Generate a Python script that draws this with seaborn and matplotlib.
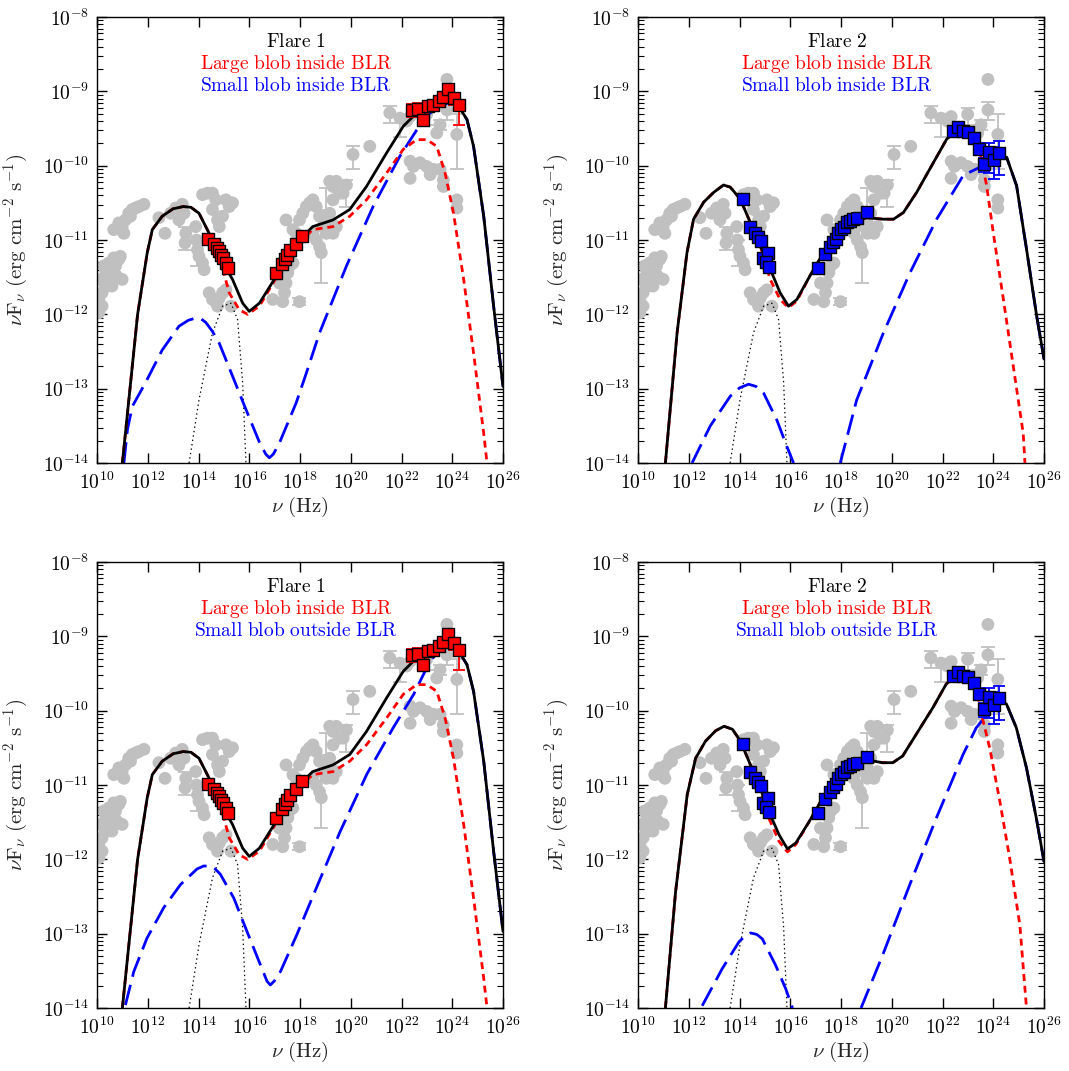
import numpy as np
import pandas as pd
import matplotlib
matplotlib.use("Agg")
import matplotlib.pyplot as plt
import matplotlib.ticker as mticker
import seaborn as sns

# ---------------- data (log10 nu [Hz], log10 nuFnu [erg cm^-2 s^-1]) ----------------
grey_lognu = [10.07, 10.20, 10.33, 10.46, 10.59, 10.73, 10.86, 10.26, 10.46, 10.66, 10.92, 10.99,
              10.13, 10.40, 10.59, 10.20, 10.07, 10.79, 10.33,
              10.66, 10.86, 10.99, 11.12, 11.25, 11.39, 11.52, 11.65, 11.85, 10.92, 11.06, 11.32,
              12.44, 12.68, 12.90, 13.10, 13.36, 13.43, 13.23,
              13.50, 13.47, 13.89, 13.92, 13.96, 14.02, 14.16, 14.22,
              14.16, 14.35, 14.55, 14.68, 14.55, 14.75, 14.82, 15.08, 15.21, 15.34, 14.95,
              14.42, 14.55, 14.68, 14.82, 14.95, 15.08, 14.75, 15.28,
              16.93, 17.32, 17.39, 17.45, 17.19, 17.52, 17.59, 17.72, 17.45, 17.72, 17.85, 17.98,
              18.11, 18.25, 18.38, 18.51, 18.64, 18.77, 18.91, 19.04, 18.51, 18.64, 18.77, 18.84,
              17.98, 19.17, 19.30, 19.43, 19.56, 19.70, 19.83, 19.30, 19.17, 19.04, 19.30, 19.43,
              20.09, 20.75, 21.54, 21.94, 22.20, 22.34, 22.99, 23.52, 23.39, 23.79, 24.18, 24.18,
              24.18, 22.34, 22.47, 22.73, 22.99, 23.26, 23.52, 23.13, 22.34, 23.65, 23.65, 23.79]
grey_logf = [-11.80, -11.71, -11.62, -11.53, -11.44, -11.35, -11.26, -11.35, -11.31, -11.24, -11.22, -11.53,
             -11.53, -11.62, -11.62, -11.89, -11.98, -11.49, -11.40,
             -10.86, -10.77, -10.82, -10.73, -10.64, -10.59, -10.57, -10.55, -10.52, -10.86, -10.91, -10.68,
             -10.70, -10.91, -10.64, -10.57, -10.52, -10.64, -10.73,
             -10.91, -11.04, -10.82, -11.00, -11.13, -11.22, -11.31, -11.40,
             -10.39, -10.37, -10.37, -10.46, -10.59, -10.73, -10.82, -10.46, -10.55, -10.50, -10.68,
             -11.71, -11.80, -11.83, -11.78, -11.71, -11.67, -11.89, -11.89,
             -11.80, -11.83, -11.71, -11.58, -11.58, -11.44, -11.35, -11.31, -10.73, -10.86, -10.91, -10.73,
             -10.64, -10.55, -10.50, -10.46, -10.55, -10.68, -10.82, -10.91, -10.91, -11.00, -11.09, -11.17,
             -11.83, -10.21, -10.28, -10.21, -10.37, -10.37, -10.26, -10.46, -10.64, -10.77, -10.91, -10.82,
             -9.85, -9.74, -9.29, -9.36, -9.40, -9.34, -9.31, -9.45, -9.56, -8.84, -9.58, -10.46,
             -10.57, -9.94, -10.01, -9.96, -10.01, -10.05, -10.05, -10.12, -10.17, -10.19, -10.28, -9.25]
# grey error bars (log nu, log lower, log upper)
grey_err_lognu = [13.47, 13.96, 17.98, 18.84, 19.04, 19.83, 20.09, 21.54, 21.94, 22.99, 23.52, 24.18, 23.79]
grey_err_lo = [-11.13, -11.35, -11.87, -11.58, -10.60, -10.55, -10.05, -9.42, -9.62, -9.45, -9.52, -10.05, -9.38]
grey_err_hi = [-10.82, -11.00, -11.78, -10.86, -10.30, -10.19, -9.74, -9.20, -9.30, -9.22, -9.38, -9.30, -9.15]

# Flare 1 observed (red squares)
f1_lognu = [14.38, 14.62, 14.71, 14.79, 14.88, 14.95, 15.08, 15.15,
            17.06, 17.28, 17.39, 17.48, 17.59, 17.85, 18.09,
            22.40, 22.66, 22.86, 23.06, 23.26, 23.46, 23.65, 23.85, 24.05, 24.25]
f1_logf = [-10.99, -11.06, -11.11, -11.15, -11.20, -11.24, -11.31, -11.38,
           -11.45, -11.32, -11.26, -11.20, -11.13, -11.05, -10.94,
           -9.25, -9.24, -9.38, -9.20, -9.19, -9.13, -9.08, -8.97, -9.09, -9.18]
f1_err_lognu = [22.40, 22.66, 22.86, 23.06, 23.26, 23.46, 23.65, 23.85, 24.05, 24.25]
f1_err_lo = [-9.35, -9.33, -9.46, -9.28, -9.26, -9.20, -9.15, -9.04, -9.18, -9.45]
f1_err_hi = [-9.17, -9.16, -9.30, -9.13, -9.12, -9.07, -9.02, -8.92, -9.02, -9.11]

# Flare 2 observed (blue squares)
f2_lognu = [14.13, 14.40, 14.62, 14.72, 14.84, 14.92, 15.14, 15.05, 15.18,
            17.11, 17.38, 17.55, 17.68, 17.81, 17.90, 17.99, 18.10, 18.23, 18.36, 18.49, 18.62, 19.04,
            22.43, 22.62, 22.82, 23.02, 23.24, 23.44, 23.65, 23.85, 24.04, 24.24]
f2_logf = [-10.45, -10.82, -10.91, -10.96, -11.02, -11.24, -11.18, -11.30, -11.36,
           -11.37, -11.19, -11.10, -11.03, -10.98, -10.90, -10.85, -10.82, -10.76, -10.74, -10.72, -10.70, -10.62,
           -9.53, -9.48, -9.54, -9.55, -9.63, -9.77, -9.98, -9.81, -9.93, -9.83]
f2_err_lognu = [22.43, 22.62, 22.82, 23.02, 23.24, 23.44, 23.65, 23.85, 24.04, 24.24]
f2_err_lo = [-9.62, -9.56, -9.61, -9.62, -9.71, -9.86, -10.08, -10.10, -10.18, -10.12]
f2_err_hi = [-9.46, -9.42, -9.48, -9.49, -9.56, -9.70, -9.90, -9.70, -9.75, -9.67]

# Model curves: Flare 1
f1_total_lognu = [11.0, 11.3, 11.6, 11.98, 12.18, 12.57, 13.0, 13.4, 13.7, 14.02, 14.42, 14.82, 15.34,
                  15.74, 16.0, 16.4, 17.06, 17.72, 18.5, 19.3, 19.96, 20.62, 21.41, 22.07, 22.6, 23.13,
                  23.79, 24.18, 24.58, 24.84, 25.24, 25.63, 26.0]
f1_total_logf = [-14.0, -13.0, -12.0, -11.17, -10.86, -10.68, -10.58, -10.55, -10.56, -10.64, -10.91, -11.22,
                 -11.53, -11.85, -11.96, -11.85, -11.49, -11.09, -10.82, -10.73, -10.59, -10.28, -9.83, -9.47,
                 -9.29, -9.20, -9.11, -9.16, -9.38, -9.74, -10.68, -11.89, -12.97]
f1_large_lognu = [11.0, 11.3, 11.6, 11.98, 12.18, 12.57, 13.0, 13.4, 13.7, 14.02, 14.42, 14.82, 15.21,
                  15.61, 15.94, 16.4, 17.06, 17.72, 18.5, 19.3, 19.96, 20.62, 21.41, 22.07, 22.6, 23.0,
                  23.39, 23.72, 24.05, 24.45, 24.84, 25.24, 25.37]
f1_large_logf = [-14.0, -13.0, -12.0, -11.17, -10.86, -10.68, -10.58, -10.55, -10.56, -10.64, -10.91, -11.22,
                 -11.71, -11.94, -12.0, -11.89, -11.51, -11.12, -10.86, -10.82, -10.68, -10.46, -10.10, -9.78,
                 -9.65, -9.65, -9.74, -10.10, -10.64, -11.53, -12.52, -13.60, -14.0]
f1_small_in_lognu = [11.06, 11.2, 11.39, 11.91, 12.57, 13.23, 13.6, 13.89, 14.1, 14.29, 14.55, 14.82, 15.34,
                     15.87, 16.4, 16.65, 16.79, 16.95, 17.19, 17.85, 18.25, 18.77, 19.83, 20.88, 21.94, 22.6,
                     23.13, 23.79, 24.18, 24.58, 24.84, 25.24, 25.63, 26.0]
f1_small_in_logf = [-14.0, -13.55, -13.24, -12.92, -12.48, -12.16, -12.08, -12.05, -12.06, -12.11, -12.23,
                    -12.39, -12.83, -13.28, -13.72, -13.88, -13.93, -13.88, -13.73, -13.19, -12.79, -12.25,
                    -11.35, -10.55, -9.87, -9.52, -9.29, -9.16, -9.16, -9.38, -9.74, -10.68, -11.89, -12.97]
f1_small_out_lognu = [11.12, 11.45, 11.97, 12.63, 13.29, 13.94, 14.2, 14.47, 14.66, 14.86, 15.39, 15.91, 16.44,
                      16.7, 16.83, 16.98, 17.23, 17.88, 18.54, 19.59, 20.64, 21.69, 22.48, 23.13, 23.6, 24.18,
                      24.58, 24.84, 25.24, 25.63, 26.0]
f1_small_out_logf = [-13.96, -13.51, -13.06, -12.65, -12.34, -12.13, -12.09, -12.09, -12.13, -12.2, -12.52,
                     -12.97, -13.42, -13.64, -13.69, -13.64, -13.51, -13.01, -12.47, -11.62, -10.85, -10.22,
                     -9.78, -9.33, -9.15, -9.16, -9.38, -9.74, -10.68, -11.89, -12.97]

# Accretion disk (dotted)
disk_lognu = [13.63, 14.02, 14.55, 14.95, 15.28, 15.54, 15.74, 15.87]
disk_logf = [-14.0, -13.15, -12.25, -11.89, -11.85, -12.07, -12.92, -14.0]

# Model curves: Flare 2 (small blob inside BLR)
f2_total_in_lognu = [11.08, 11.54, 11.93, 12.19, 12.59, 12.98, 13.37, 13.64, 14.03, 14.42, 14.82, 15.21,
                     15.6, 15.93, 16.26, 16.78, 17.31, 17.83, 18.36, 19.02, 19.67, 20.07, 20.46, 20.98,
                     21.64, 22.17, 22.56, 22.95, 23.35, 23.74, 24.13, 24.53, 24.92, 25.31, 25.71, 26.0]
f2_total_in_logf = [-14.0, -12.25, -11.17, -10.72, -10.49, -10.36, -10.26, -10.29, -10.45, -10.76, -11.08,
                    -11.39, -11.71, -11.89, -11.80, -11.48, -11.17, -10.90, -10.76, -10.70, -10.72, -10.72,
                    -10.63, -10.36, -9.96, -9.64, -9.53, -9.55, -9.73, -9.82, -9.82, -9.89, -10.27, -11.12,
                    -12.02, -12.6]
f2_large_lognu = [11.08, 11.54, 11.93, 12.19, 12.59, 12.98, 13.37, 13.64, 14.03, 14.42, 14.82, 15.21,
                  15.6, 15.93, 16.26, 16.78, 17.31, 17.83, 18.36, 19.02, 19.67, 20.07, 20.46, 20.98,
                  21.64, 22.17, 22.56, 22.95, 23.35, 23.48, 23.74, 24.0, 24.4, 24.79, 25.18, 25.25]
f2_large_logf = [-14.0, -12.25, -11.17, -10.72, -10.49, -10.36, -10.26, -10.29, -10.45, -10.76, -11.08,
                 -11.53, -11.80, -11.91, -11.82, -11.48, -11.17, -10.90, -10.76, -10.70, -10.72, -10.72,
                 -10.63, -10.36, -9.96, -9.64, -9.53, -9.55, -9.73, -9.82, -10.27, -10.90, -11.80, -12.70,
                 -13.60, -14.0]
f2_small_in_syn_lognu = [12.13, 12.85, 13.64, 14.0, 14.36, 14.65, 14.95, 15.47, 15.87, 16.13]
f2_small_in_syn_logf = [-14.0, -13.5, -13.1, -12.99, -12.94, -12.97, -13.06, -13.42, -13.78, -14.0]
f2_small_in_ic_lognu = [17.97, 18.62, 19.67, 20.72, 21.77, 22.82, 23.6, 24.13, 24.53, 24.92, 25.31, 25.71, 26.0]
f2_small_in_ic_logf = [-14.0, -13.15, -12.25, -11.44, -10.72, -10.13, -10.0, -9.87, -9.89, -10.27, -11.12,
                       -12.02, -12.6]

# Model curves: Flare 2 (small blob outside BLR)
f2_total_out_lognu = [11.08, 11.48, 11.94, 12.27, 12.66, 13.06, 13.39, 13.72, 14.04, 14.37, 14.77, 15.16,
                      15.56, 15.89, 16.22, 16.75, 17.27, 17.80, 18.46, 18.99, 19.64, 20.04, 20.43, 20.96,
                      21.62, 22.15, 22.54, 22.94, 23.33, 23.73, 24.12, 24.52, 24.91, 25.31, 25.70, 26.0]
f2_total_out_logf = [-14.0, -12.44, -11.13, -10.64, -10.41, -10.27, -10.21, -10.25, -10.41, -10.68, -11.0,
                     -11.36, -11.67, -11.86, -11.78, -11.49, -11.18, -10.91, -10.73, -10.66, -10.70, -10.70,
                     -10.61, -10.32, -9.96, -9.64, -9.53, -9.55, -9.71, -9.82, -9.85, -9.91, -10.23, -10.77,
                     -11.45, -12.03]
f2_large_out_lognu = [11.08, 11.48, 11.94, 12.27, 12.66, 13.06, 13.39, 13.72, 14.04, 14.37, 14.77, 15.16,
                      15.56, 15.89, 16.22, 16.75, 17.27, 17.80, 18.46, 18.99, 19.64, 20.04, 20.43, 20.96,
                      21.62, 22.15, 22.54, 22.94, 23.33, 23.6, 23.86, 24.26, 24.65, 25.05, 25.31]
f2_large_out_logf = [-14.0, -12.44, -11.13, -10.64, -10.41, -10.27, -10.21, -10.25, -10.41, -10.68, -11.0,
                     -11.45, -11.76, -11.90, -11.80, -11.49, -11.18, -10.91, -10.73, -10.66, -10.70, -10.70,
                     -10.61, -10.32, -9.96, -9.64, -9.53, -9.55, -9.71, -10.14, -10.50, -11.22, -11.99,
                     -12.89, -14.0]
f2_small_out_syn_lognu = [12.53, 13.32, 13.98, 14.22, 14.44, 14.68, 14.90, 15.43, 15.82, 16.09]
f2_small_out_syn_logf = [-13.97, -13.47, -13.11, -13.03, -12.99, -13.01, -13.07, -13.43, -13.74, -14.0]
f2_small_out_ic_lognu = [18.79, 19.64, 20.70, 21.75, 22.81, 23.33, 23.66, 24.12, 24.52, 24.91, 25.31, 25.70, 26.0]
f2_small_out_ic_logf = [-14.0, -13.29, -12.35, -11.45, -10.59, -10.23, -10.09, -9.87, -9.91, -10.23, -10.77,
                        -11.45, -12.03]

x_ticks_exp = [10, 12, 14, 16, 18, 20, 22, 24, 26]
y_ticks_exp = [-14, -13, -12, -11, -10, -9, -8]

titles = ["Flare 1", "Flare 2", "Flare 1", "Flare 2"]
large_labels = ["Large blob inside BLR"] * 4
small_labels = ["Small blob inside BLR", "Small blob inside BLR",
                "Small blob outside BLR", "Small blob outside BLR"]

# ---------------- style ----------------
sns.set_theme(style="ticks")
plt.rcParams.update({
    "font.family": ["DejaVu Serif"],
    "mathtext.fontset": "cm",
    "lines.scale_dashes": False,
    "axes.linewidth": 1.0,
    "xtick.direction": "in",
    "ytick.direction": "in",
})

GREY = "#c0c0c0"
RED = "#ff0000"
BLUE = "#0000ff"

fig = plt.figure(figsize=(10.69, 10.71), dpi=100)
W, H = 1069.0, 1071.0
boxes = [(97, 17), (638, 17), (97, 562), (638, 562)]
aw, ah = 406, 446


def tolin(a):
    return 10.0 ** np.asarray(a, dtype=float)


def line(ax, lx, ly, color, dashes=None, lw=2.0, z=3):
    sns.lineplot(x=tolin(lx), y=tolin(ly), ax=ax, color=color, lw=lw, sort=False,
                 estimator=None, legend=False, zorder=z)
    ln = ax.lines[-1]
    if dashes is not None:
        ln.set_dashes(dashes)
    return ln


panels = [
    dict(sq_x=f1_lognu, sq_y=f1_logf, sq_c=RED, ex=f1_err_lognu, elo=f1_err_lo, ehi=f1_err_hi,
         tot=(f1_total_lognu, f1_total_logf), large=(f1_large_lognu, f1_large_logf),
         small=[(f1_small_in_lognu, f1_small_in_logf)]),
    dict(sq_x=f2_lognu, sq_y=f2_logf, sq_c=BLUE, ex=f2_err_lognu, elo=f2_err_lo, ehi=f2_err_hi,
         tot=(f2_total_in_lognu, f2_total_in_logf), large=(f2_large_lognu, f2_large_logf),
         small=[(f2_small_in_syn_lognu, f2_small_in_syn_logf), (f2_small_in_ic_lognu, f2_small_in_ic_logf)]),
    dict(sq_x=f1_lognu, sq_y=f1_logf, sq_c=RED, ex=f1_err_lognu, elo=f1_err_lo, ehi=f1_err_hi,
         tot=(f1_total_lognu, f1_total_logf), large=(f1_large_lognu, f1_large_logf),
         small=[(f1_small_out_lognu, f1_small_out_logf)]),
    dict(sq_x=f2_lognu, sq_y=f2_logf, sq_c=BLUE, ex=f2_err_lognu, elo=f2_err_lo, ehi=f2_err_hi,
         tot=(f2_total_out_lognu, f2_total_out_logf), large=(f2_large_out_lognu, f2_large_out_logf),
         small=[(f2_small_out_syn_lognu, f2_small_out_syn_logf), (f2_small_out_ic_lognu, f2_small_out_ic_logf)]),
]

for i, p in enumerate(panels):
    x0, y0 = boxes[i]
    ax = fig.add_axes([x0 / W, 1 - (y0 + ah) / H, aw / W, ah / H])
    ax.set_xscale("log")
    ax.set_yscale("log")

    # grey archival data
    gl, gh = tolin(grey_err_lo), tolin(grey_err_hi)
    gm = np.sqrt(gl * gh)
    ax.errorbar(tolin(grey_err_lognu), gm, yerr=[gm - gl, gh - gm],
                fmt="none", ecolor=GREY, elinewidth=1.3, capsize=5, capthick=1.3, zorder=1)
    sns.scatterplot(x=tolin(grey_lognu), y=tolin(grey_logf), ax=ax, color=GREY, s=85,
                    edgecolor="none", linewidth=0, zorder=1, legend=False)

    # model curves
    line(ax, disk_lognu, disk_logf, "black", dashes=[1.0, 2.2], lw=0.9, z=2)
    for sx, sy in p["small"]:
        line(ax, sx, sy, BLUE, dashes=[15, 6], lw=2.0, z=3)
    line(ax, p["large"][0], p["large"][1], RED, dashes=[5, 3.5], lw=2.0, z=3)
    line(ax, p["tot"][0], p["tot"][1], "black", lw=2.0, z=4)

    # observed squares
    yl, yh = tolin(p["elo"]), tolin(p["ehi"])
    ym = np.sqrt(yl * yh)
    ax.errorbar(tolin(p["ex"]), ym, yerr=[ym - yl, yh - ym], fmt="none", ecolor=p["sq_c"],
                elinewidth=1.3, capsize=4, capthick=1.3, zorder=5)
    sns.scatterplot(x=tolin(p["sq_x"]), y=tolin(p["sq_y"]), ax=ax, marker="s", color=p["sq_c"],
                    s=75, edgecolor="black", linewidth=1.0, zorder=6, legend=False)

    ax.set_xlim(1e10, 1e26)
    ax.set_ylim(1e-14, 1e-8)
    ax.xaxis.set_major_locator(mticker.FixedLocator(tolin(x_ticks_exp)))
    ax.xaxis.set_minor_locator(mticker.NullLocator())
    ax.xaxis.set_major_formatter(mticker.FuncFormatter(lambda v, pos: r"$10^{%d}$" % round(np.log10(v))))
    ax.yaxis.set_major_locator(mticker.FixedLocator(tolin(y_ticks_exp)))
    ax.yaxis.set_minor_locator(mticker.LogLocator(base=10, subs=np.arange(2, 10), numticks=20))
    ax.yaxis.set_minor_formatter(mticker.NullFormatter())
    ax.yaxis.set_major_formatter(mticker.FuncFormatter(lambda v, pos: r"$10^{%d}$" % round(np.log10(v))))
    ax.tick_params(which="both", direction="in", top=True, right=True, labelsize=14, colors="black")
    ax.tick_params(which="major", length=7, width=1.0, pad=6)
    ax.tick_params(which="minor", length=4, width=0.8)
    for s in ax.spines.values():
        s.set_color("black")
        s.set_linewidth(1.0)

    ax.set_xlabel(r"$\nu\ (\mathrm{Hz})$", fontsize=15, labelpad=2)
    ax.set_ylabel(r"$\nu\mathrm{F}_\nu\ (\mathrm{erg\ cm^{-2}\ s^{-1}})$", fontsize=15)
    ax.yaxis.set_label_coords(-0.165, 0.5)

    ax.text(0.49, 0.944, r"$\mathrm{%s}$" % titles[i].replace(" ", r"\ "), transform=ax.transAxes,
            ha="center", va="center", fontsize=14, color="black")
    ax.text(0.49, 0.895, r"$\mathrm{%s}$" % large_labels[i].replace(" ", r"\ "), transform=ax.transAxes,
            ha="center", va="center", fontsize=14, color=RED)
    ax.text(0.49, 0.846, r"$\mathrm{%s}$" % small_labels[i].replace(" ", r"\ "), transform=ax.transAxes,
            ha="center", va="center", fontsize=14, color=BLUE)

fig.savefig("out.png", dpi=100)
